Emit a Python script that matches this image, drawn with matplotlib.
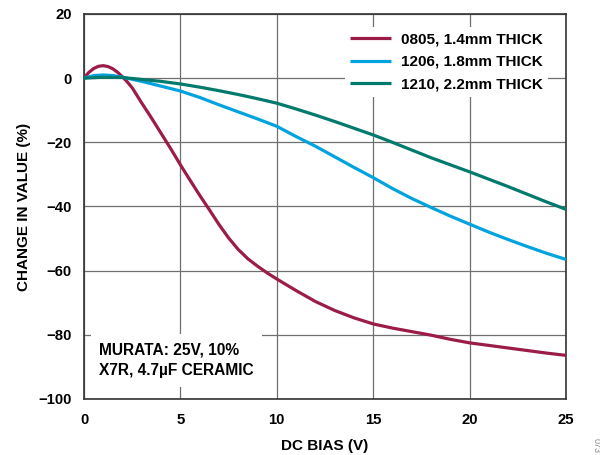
import matplotlib
matplotlib.use("Agg")
import matplotlib.pyplot as plt

plt.rcParams['font.family'] = ['Liberation Sans', 'DejaVu Sans']
plt.rcParams['font.weight'] = 'bold'

# DC bias (V) and capacitance change (%) for three X7R 4.7uF parts
bias_0805 = [0, 0.25, 0.5, 0.75, 1.0, 1.25, 1.5, 1.75, 2.0, 2.25, 2.5, 3.0, 3.5, 4.0,
             4.5, 5.0, 5.5, 6.0, 6.5, 7.0, 7.5, 8.0, 8.5, 9.0, 9.5, 10, 11, 12, 13,
             14, 15, 16, 17, 18, 19, 20, 21, 22, 23, 24, 25]
change_0805 = [0, 1.8, 3.0, 3.7, 3.9, 3.6, 2.9, 1.8, 0.4, -1.2, -3.0, -7.8, -12.4, -17.2,
               -22.0, -27.0, -31.8, -36.5, -41.0, -45.6, -49.8, -53.4, -56.3, -58.6, -60.7,
               -62.6, -66.2, -69.6, -72.4, -74.7, -76.6, -77.9, -79.0, -80.1, -81.4, -82.5,
               -83.3, -84.1, -84.9, -85.7, -86.4]

bias_1206 = [0, 0.5, 1.0, 1.5, 2.0, 3, 4, 5, 6, 7, 8, 9, 10, 11, 12, 13, 14, 15, 16,
             17, 18, 19, 20, 21, 22, 23, 24, 25]
change_1206 = [0, 0.8, 1.0, 0.8, 0.3, -1.0, -2.5, -4.0, -6.0, -8.3, -10.5, -12.7, -15.0,
               -18.2, -21.2, -24.5, -27.8, -31.0, -34.4, -37.5, -40.3, -43.0, -45.5,
               -48.0, -50.3, -52.5, -54.6, -56.5]

bias_1210 = [0, 1, 2, 3, 4, 5, 6, 7, 8, 9, 10, 11, 12, 13, 14, 15, 16, 17, 18, 19, 20,
             21, 22, 23, 24, 25]
change_1210 = [0, 0.3, 0.2, -0.4, -1.0, -1.8, -2.8, -3.9, -5.1, -6.4, -7.8, -9.6, -11.5,
               -13.5, -15.6, -17.7, -20.0, -22.4, -24.8, -27.0, -29.2, -31.5, -33.8,
               -36.2, -38.6, -40.9]

labels = ["0805, 1.4mm THICK", "1206, 1.8mm THICK", "1210, 2.2mm THICK"]
colors = ["#9c1c48", "#00a3dd", "#007a6c"]

x_ticks = [0, 5, 10, 15, 20, 25]
y_ticks = [20, 0, -20, -40, -60, -80, -100]
y_ticklabels = ["20", "0", "\u221220", "\u221240", "\u221260", "\u221280", "\u2212100"]

fig = plt.figure(figsize=(6.0, 4.55), dpi=100)
ax = fig.add_axes([84 / 600, 1 - 399 / 455, 482 / 600, 385 / 455])

series = [(bias_0805, change_0805), (bias_1206, change_1206), (bias_1210, change_1210)]
for (x, y), lab, c in zip(series, labels, colors):
    ax.plot(x, y, color=c, lw=2.3, label=lab, solid_capstyle='butt', zorder=3)

ax.set_xlim(0, 25)
ax.set_ylim(-100, 20)
ax.set_xticks(x_ticks)
ax.set_yticks(y_ticks)
ax.set_yticklabels(y_ticklabels)
ax.tick_params(axis='y', length=0, labelsize=10.7, pad=9)
ax.tick_params(axis='x', length=0, labelsize=10.7, pad=10)
for lbl in ax.get_xticklabels() + ax.get_yticklabels():
    lbl.set_fontweight('bold')

ax.grid(True, color='#6f6f6f', lw=0.9)
ax.set_axisbelow(True)
for s in ax.spines.values():
    s.set_color('#333333')
    s.set_linewidth(1.2)

ax.set_xlabel("DC BIAS (V)", fontsize=11, fontweight='bold', labelpad=9)
ax.set_ylabel("CHANGE IN VALUE (%)", fontsize=11, fontweight='bold', labelpad=5)

leg = ax.legend(loc='upper right', bbox_to_anchor=(548 / 600, 1 - 27 / 455),
                bbox_transform=fig.transFigure, fontsize=11, frameon=True,
                fancybox=False, framealpha=1, facecolor='white', edgecolor='none',
                handlelength=2.65, handletextpad=0.65, labelspacing=0.56,
                borderpad=0.35, borderaxespad=0)
for t in leg.get_texts():
    t.set_fontweight('bold')
leg.set_zorder(5)

ax.text(0.8, -87.9, "MURATA: 25V, 10%\nX7R, 4.7\u00b5F CERAMIC", fontsize=11.2,
        fontweight='bold', ha='left', va='center', linespacing=1.5, zorder=4,
        bbox=dict(facecolor='white', edgecolor='none', pad=6))

fig.text(596.5 / 600, 1 - 438 / 455, "073", rotation=-90, fontsize=6.5,
         color='#8a8a8a', ha='center', va='top', fontweight='normal')

fig.savefig("out.png", dpi=100)
